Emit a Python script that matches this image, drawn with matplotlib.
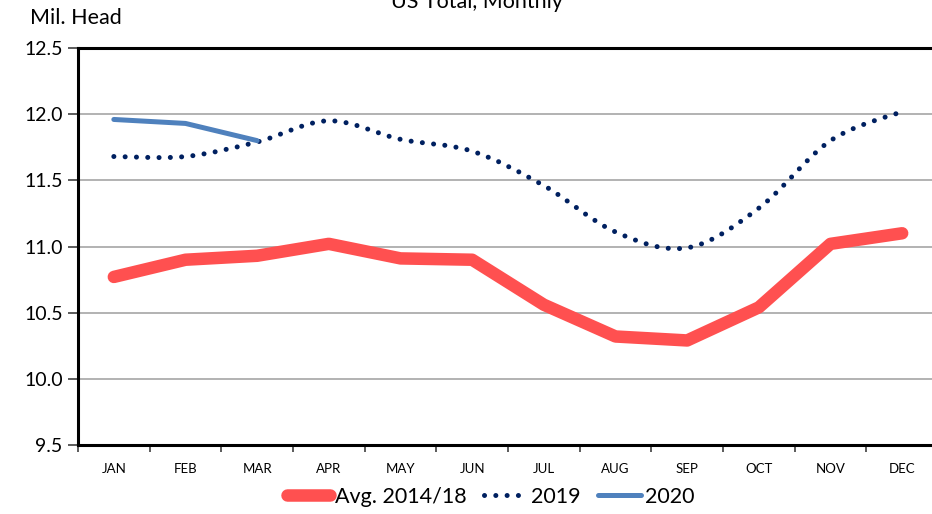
import matplotlib
matplotlib.use("Agg")
import matplotlib.pyplot as plt
from matplotlib.path import Path
from matplotlib.patches import PathPatch
from matplotlib.lines import Line2D
import numpy as np

plt.rcParams['font.family'] = ['Lato', 'DejaVu Sans']

months = ["JAN", "FEB", "MAR", "APR", "MAY", "JUN", "JUL", "AUG", "SEP", "OCT", "NOV", "DEC"]
avg_2014_18 = [10.77, 10.90, 10.93, 11.02, 10.91, 10.90, 10.56, 10.32, 10.29, 10.54, 11.02, 11.10]
y2019 = [11.68, 11.68, 11.79, 11.95, 11.81, 11.72, 11.46, 11.11, 10.99, 11.29, 11.80, 12.02]
y2020 = [11.96, 11.93, 11.80]
yticks = [9.5, 10.0, 10.5, 11.0, 11.5, 12.0, 12.5]

RED = "#FF5050"
NAVY = "#002060"
BLUE = "#4F81BD"

fig = plt.figure(figsize=(9.32, 5.14), dpi=100)
ax = fig.add_axes([78/932, 1-445/514, (938-78)/932, (445-48)/514])

x = np.arange(len(months))
ax.plot(x, avg_2014_18, color=RED, lw=9, solid_capstyle='round', solid_joinstyle='round', zorder=3)

# smoothed 2019 line (Excel-style smoothing via Bezier curves)
pts = np.column_stack([x, y2019]).astype(float)
verts = [tuple(pts[0])]
codes = [Path.MOVETO]
n = len(pts)
for i in range(n - 1):
    p0 = pts[i - 1] if i > 0 else pts[i]
    p1 = pts[i]
    p2 = pts[i + 1]
    p3 = pts[i + 2] if i + 2 < n else pts[i + 1]
    c1 = p1 + (p2 - p0) / 6.0
    c2 = p2 - (p3 - p1) / 6.0
    verts += [tuple(c1), tuple(c2), tuple(p2)]
    codes += [Path.CURVE4] * 3
dot_style = (0, (0.01, 2.25))
patch = PathPatch(Path(verts, codes), facecolor='none', edgecolor=NAVY, lw=3.6,
                  linestyle=dot_style, capstyle='round', zorder=4)
ax.add_patch(patch)

ax.plot(x[:len(y2020)], y2020, color=BLUE, lw=3.6, solid_capstyle='round', zorder=5)

ax.set_xlim(-0.5, len(months) - 0.5)
ax.set_ylim(9.5, 12.5)
ax.set_yticks(yticks)
ax.set_yticklabels([f"{v:.1f}" for v in yticks], fontsize=14)
ax.set_xticks(x)
ax.set_xticklabels(months, fontsize=9.5)
ax.set_xticks(np.arange(len(months) + 1) - 0.5, minor=True)
ax.tick_params(axis='x', which='major', length=0, pad=13)
ax.tick_params(axis='x', which='minor', length=5, width=1.2, color='#404040')
ax.tick_params(axis='y', length=7, width=1.2, color='#404040', pad=4)
ax.grid(axis='y', color='#A6A6A6', lw=1.2)
ax.set_axisbelow(True)
for s in ax.spines.values():
    s.set_linewidth(2.2)
    s.set_color('black')

fig.text(30/932, 1-18/514, "Mil. Head", fontsize=15.5, ha='left', va='center')
fig.text(477/932, 1-2/514, "US Total, Monthly", fontsize=15.5, ha='center', va='center')

handles = [
    Line2D([], [], color=RED, lw=9, solid_capstyle='round'),
    Line2D([], [], color=NAVY, lw=3.6, linestyle=dot_style, dash_capstyle='round'),
    Line2D([], [], color=BLUE, lw=3.6, solid_capstyle='round'),
]
fig.legend(handles, ["Avg. 2014/18", "2019", "2020"], loc='center',
           bbox_to_anchor=(491/932, 1-497/514), ncol=3, frameon=False,
           fontsize=15.5, handlelength=2.0, handletextpad=0.2, columnspacing=0.8)

fig.savefig("out.png", dpi=100)
